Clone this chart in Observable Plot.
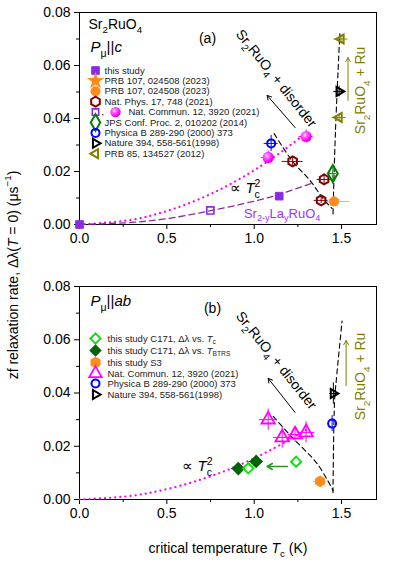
<!DOCTYPE html>
<html><head><meta charset="utf-8">
<script src="https://cdn.jsdelivr.net/npm/d3@7"></script>
<script src="https://cdn.jsdelivr.net/npm/@observablehq/plot@0.6"></script>
<style>
body{margin:0;background:#fff;}
#wrap{position:relative;width:397px;height:567px;overflow:hidden;background:#fff;}
#wrap svg{position:absolute;left:0;}
</style></head><body><div id="wrap"></div>
<script>
// ---------------- data ----------------
const xTicks = [0, 0.5, 1.0, 1.5];
const xMinor = [0.25, 0.75, 1.25];
const yTicks = [0, 0.02, 0.04, 0.06, 0.08];
const yMinor = [0.01, 0.03, 0.05, 0.07];

// panel (a): P_mu || c
const aThisTc = [0, 1.143], aThisRate = [0, 0.0107];
const aPrbStarTc = [1.457], aPrbStarRate = [0.0087];
const aPrbCircTc = [1.457], aPrbCircRate = [0.0087], aPrbCircXe = [[0.05, 0.09]], aPrbCircYe = [0.002];
const aNatPhysTc = [1.22, 1.40, 1.383], aNatPhysRate = [0.0238, 0.0170, 0.0091], aNatPhysXe = [0.06, 0.04, 0.04], aNatPhysYe = [0.0015, 0.002, 0.0012];
const aNcSqTc = [0.749], aNcSqRate = [0.0053];
const aNcBallTc = [1.08, 1.297], aNcBallRate = [0.0253, 0.0332], aNcBallXe = [0.04, 0.04], aNcBallYe = [0.0025, 0.0025];
const aJpsTc = [1.45], aJpsRate = [0.0192], aJpsXe = [0.02], aJpsYe = [0.003];
const aPhysBTc = [1.097], aPhysBRate = [0.0306], aPhysBXe = [0.04], aPhysBYe = [0.003];
const aNatureTc = [1.486], aNatureRate = [0.0502], aNatureXe = [0.03], aNatureYe = [0.002];
const aPrb85Tc = [1.497, 1.486], aPrb85Rate = [0.070, 0.0404], aPrb85Xe = [0.04, 0.04], aPrb85Ye = [0.0015, 0.0015];
// guide curves (a)
const aLaCurveTc = [0, 0.3, 0.5, 0.75, 1.0, 1.15, 1.33], aLaCurveRate = [0, 0.0008, 0.0022, 0.0052, 0.0088, 0.0115, 0.0156];
const aMagCurveTc = [0, 0.3, 0.5, 0.7, 0.9, 1.1, 1.32], aMagCurveRate = [0, 0.0018, 0.0051, 0.0100, 0.0166, 0.0248, 0.0357];
const aDisCurveTc = [1.114, 1.22, 1.32, 1.389, 1.446], aDisCurveRate = [0.0343, 0.0238, 0.0166, 0.0102, 0.006];
const aRuCurveTc = [1.451, 1.465, 1.49], aRuCurveRate = [0.004, 0.035, 0.072];

// panel (b): P_mu || ab
const bC171TcTc = [0.966, 1.24], bC171TcRate = [0.0117, 0.0142];
const bC171BtTc = [0.909, 1.011], bC171BtRate = [0.0116, 0.0143], bC171BtXe = [0.04, 0.04];
const bS3Tc = [1.377], bS3Rate = [0.0068], bS3Xe = [0.04], bS3Ye = [0.0012];
const bNcTriTc = [1.08, 1.16, 1.234, 1.297], bNcTriRate = [0.030, 0.0233, 0.0244, 0.0252], bNcTriXe = [0.05, 0.05, 0.04, 0.05], bNcTriYe = [0.004, 0.004, 0.003, 0.004];
const bPhysBTc = [1.446], bPhysBRate = [0.0285], bPhysBYe = [0.003];
const bNatureTc = [1.453], bNatureRate = [0.0398], bNatureXe = [0.02], bNatureYe = [0.004];
const bMagCurveTc = [0, 0.3, 0.5, 0.7, 0.9, 1.1, 1.32], bMagCurveRate = [0, 0.0014, 0.0039, 0.0076, 0.0125, 0.0188, 0.027];
const bDisCurveTc = [1.109, 1.217, 1.36, 1.451], bDisCurveRate = [0.0312, 0.0233, 0.0135, 0.0034];
const bRuCurveTc = [1.451, 1.46, 1.47, 1.503], bRuCurveRate = [0.0026, 0.037, 0.045, 0.067];

// legend labels
const aLegendLabels = ["this study", "PRB 107, 024508 (2023)", "PRB 107, 024508 (2023)", "Nat. Phys. 17, 748 (2021)",
  "Nat. Commun. 12, 3920 (2021)", "JPS Conf. Proc. 2, 010202 (2014)", "Physica B 289-290 (2000) 373",
  "Nature 394, 558-561(1998)", "PRB 85, 134527 (2012)"];
const bLegendLabels = ["this study C171, Δλ vs. *T*_{c}", "this study C171, Δλ vs. *T*_{BTRS}", "this study S3",
  "Nat. Commun. 12, 3920 (2021)", "Physica B 289-290 (2000) 373", "Nature 394, 558-561(1998)"];

// ---------------- helpers ----------------
const NS = "http://www.w3.org/2000/svg";
const FONT = '"Liberation Sans", Arial, Helvetica, sans-serif';
const LFS = 9.5; // legend font size
const C = {purple:"#8a2be2", purpleText:"#9933ff", orange:"#ff8c1a", orangeErr:"#ffab5c", darkred:"#800000",
  magenta:"#ff00ff", green:"#008000", blue:"#0000ff", olive:"#808000", lime:"#11e011", dkgreen:"#006400", arrowGreen:"#2a962a"};
const triRight = {draw(ctx, size){const r = Math.sqrt(size) * 0.66; ctx.moveTo(r, 0); ctx.lineTo(-r/2, -r*0.866); ctx.lineTo(-r/2, r*0.866); ctx.closePath();}};
const triLeft = {draw(ctx, size){const r = Math.sqrt(size) * 0.66; ctx.moveTo(-r, 0); ctx.lineTo(r/2, -r*0.866); ctx.lineTo(r/2, r*0.866); ctx.closePath();}};

function pts(tc, rate, xe, ye){
  return tc.map((t, i) => {
    const d = {tc: t, rate: rate[i]};
    if (xe && xe[i] != null) { const e = xe[i]; d.xl = t - (Array.isArray(e) ? e[0] : e); d.xh = t + (Array.isArray(e) ? e[1] : e); }
    if (ye && ye[i] != null) { d.yl = rate[i] - ye[i]; d.yh = rate[i] + ye[i]; }
    return d;
  });
}
const curve = (tc, rate) => tc.map((t, i) => ({tc: t, rate: rate[i]}));

function seriesMarks(list){
  const err = [], dots = [];
  for (const s of list) {
    const ec = s.err || s.stroke || s.fill;
    err.push(Plot.ruleY(s.data.filter(d => d.xl != null), {y: "rate", x1: "xl", x2: "xh", stroke: ec, strokeWidth: 1}));
    err.push(Plot.ruleX(s.data.filter(d => d.yl != null), {x: "tc", y1: "yl", y2: "yh", stroke: ec, strokeWidth: 1}));
    dots.push(Plot.dot(s.data, {x: "tc", y: "rate", symbol: s.symbol, r: s.r, fill: s.fill || "none", stroke: s.stroke || "none", strokeWidth: s.sw || 1}));
  }
  return [...err, ...dots];
}
function legendMarks(list, labels, dys, sx, tx){
  const m = [];
  list.forEach((s, i) => {
    m.push(Plot.dot([0], {frameAnchor: "top-left", dx: sx, dy: dys[i], symbol: s.symbol, r: s.lr || s.r, fill: s.fill || "none", stroke: s.stroke || "none", strokeWidth: s.sw || 1}));
    if (s.extra) {
      m.push(Plot.text([","], {text: d => d, frameAnchor: "top-left", dx: sx + 6, dy: dys[i], textAnchor: "start", lineAnchor: "middle", fontSize: LFS, fill: "#222"}));
      m.push(Plot.dot([0], {frameAnchor: "top-left", dx: sx + 20, dy: dys[i], symbol: s.extra.symbol, r: s.extra.lr, fill: s.extra.fill, stroke: "none"}));
    }
    m.push(Plot.text([labels[i]], {text: d => d, frameAnchor: "top-left", dx: s.extra ? tx + 24 : tx, dy: dys[i], textAnchor: "start", lineAnchor: "middle", fontSize: LFS, fill: "#222"}));
  });
  return m;
}
function axes(){
  return [
    Plot.axisX({ticks: xTicks, tickSize: 5, tickPadding: 4, tickFormat: d3.format(".1f"), label: null, fontSize: 14}),
    Plot.axisX({ticks: xMinor, tickSize: 3, tickFormat: () => "", label: null}),
    Plot.axisY({ticks: yTicks, tickSize: 5, tickPadding: 4, tickFormat: d3.format(".2f"), label: null, fontSize: 14}),
    Plot.axisY({ticks: yMinor, tickSize: 3, tickFormat: () => "", label: null}),
    Plot.frame({stroke: "black", strokeWidth: 1})
  ];
}
const defsMark = () => {
  const g = document.createElementNS(NS, "g");
  g.innerHTML = '<defs><radialGradient id="ball" cx="0.38" cy="0.36" r="0.66"><stop offset="0" stop-color="#ffeaff"/><stop offset="0.3" stop-color="#ff66ff"/><stop offset="0.8" stop-color="#ff00ff"/><stop offset="1" stop-color="#d000d0"/></radialGradient></defs>';
  return g;
};
const txt = (s, o) => Plot.text([s], {text: d => d, ...o});

// ---------------- panel (a) ----------------
const aSeries = [
  {data: pts(aThisTc, aThisRate), symbol: "square", r: 4.3, fill: C.purple, stroke: C.purple},
  {data: pts(aPrbStarTc, aPrbStarRate), symbol: "star", r: 3.8, lr: 5.5, fill: C.orange},
  {data: pts(aNatPhysTc, aNatPhysRate, aNatPhysXe, aNatPhysYe), symbol: "hexagon", r: 4.3, stroke: C.darkred, sw: 2},
  {data: pts(aPrbCircTc, aPrbCircRate, aPrbCircXe, aPrbCircYe), symbol: "circle", r: 5, fill: C.orange, err: C.orangeErr},
  {data: pts(aNcSqTc, aNcSqRate), symbol: "square", r: 4, lr: 3.6, stroke: C.purple, sw: 1.6, extra: {symbol: "circle", lr: 5.2, fill: "url(#ball)"}},
  {data: pts(aNcBallTc, aNcBallRate, aNcBallXe, aNcBallYe), symbol: "circle", r: 5.6, fill: "url(#ball)", err: C.magenta},
  {data: pts(aJpsTc, aJpsRate, aJpsXe, aJpsYe), symbol: "diamond", r: 5.2, lr: 5, stroke: C.green, sw: 2},
  {data: pts(aPhysBTc, aPhysBRate, aPhysBXe, aPhysBYe), symbol: "circle", r: 4, stroke: C.blue, sw: 2},
  {data: pts(aNatureTc, aNatureRate, aNatureXe, aNatureYe), symbol: triRight, r: 4.4, stroke: "black", sw: 2},
  {data: pts(aPrb85Tc, aPrb85Rate, aPrb85Xe, aPrb85Ye), symbol: triLeft, r: 4.4, stroke: C.olive, sw: 2}
];
const aLegendSeries = [aSeries[0], aSeries[1], aSeries[3], aSeries[2], aSeries[4], aSeries[6], aSeries[7], aSeries[8], aSeries[9]];
const aLegendDy = aLegendSeries.map((_, i) => 58 + i * 10.4);

const plotA = Plot.plot({
  width: 397, height: 250, marginTop: 12, marginBottom: 26, marginLeft: 79, marginRight: 21,
  x: {domain: [0, 1.7]}, y: {domain: [0, 0.08]},
  style: {fontFamily: FONT, fontSize: "14px", background: "white", color: "black", overflow: "visible"},
  marks: [
    defsMark,
    ...axes(),
    Plot.line(curve(aMagCurveTc, aMagCurveRate), {x: "tc", y: "rate", curve: "catmull-rom", stroke: C.magenta, strokeWidth: 2.2, strokeDasharray: "0.1,5", strokeLinecap: "round"}),
    Plot.line(curve(aLaCurveTc, aLaCurveRate), {x: "tc", y: "rate", curve: "catmull-rom", stroke: "#8e2a9e", strokeWidth: 1.3, strokeDasharray: "6,4"}),
    Plot.line(curve(aDisCurveTc, aDisCurveRate), {x: "tc", y: "rate", curve: "catmull-rom", stroke: "black", strokeWidth: 1.1, strokeDasharray: "5,3.5"}),
    Plot.line(curve(aRuCurveTc, aRuCurveRate), {x: "tc", y: "rate", curve: "catmull-rom", stroke: "black", strokeWidth: 1.1, strokeDasharray: "5,3.5"}),
    Plot.arrow([0], {x1: () => 1.234, y1: () => 0.0366, x2: () => 1.074, y2: () => 0.0487, stroke: "black", strokeWidth: 1, headLength: 7}),
    Plot.arrow([0], {x1: () => 1.537, y1: () => 0.0468, x2: () => 1.537, y2: () => 0.063, stroke: C.olive, strokeWidth: 1, headLength: 7}),
    ...seriesMarks(aSeries),
    ...legendMarks(aLegendSeries, aLegendLabels, aLegendDy, 16, 25),
    txt("Sr_{2}RuO_{4}", {frameAnchor: "top-left", dx: 9, dy: 12, textAnchor: "start", lineAnchor: "middle", fontSize: 14}),
    txt("*P*_{μ}||*c*", {frameAnchor: "top-left", dx: 11, dy: 35, textAnchor: "start", lineAnchor: "middle", fontSize: 15}),
    txt("(a)", {frameAnchor: "top-left", dx: 128, dy: 26, textAnchor: "middle", lineAnchor: "middle", fontSize: 14}),
    txt("Sr_{2}RuO_{4} + disorder", {x: () => 1.126, y: () => 0.0551, rotate: 51.5, textAnchor: "middle", lineAnchor: "middle", fontSize: 14}),
    txt("Sr_{2}RuO_{4} + Ru", {x: () => 1.611, y: () => 0.0506, rotate: -90, textAnchor: "middle", lineAnchor: "middle", fontSize: 14, fill: C.olive}),
    txt("∝ *T*_{c}^{2}", {x: () => 0.863, y: () => 0.0136, textAnchor: "start", lineAnchor: "middle", fontSize: 15}),
    txt("Sr_{2-y}La_{y}RuO_{4}", {x: () => 1.16, y: () => 0.0042, textAnchor: "middle", lineAnchor: "middle", fontSize: 13, fill: C.purpleText})
  ]
});

// ---------------- panel (b) ----------------
const bSeries = [
  {data: pts(bC171BtTc, bC171BtRate, bC171BtXe), symbol: "diamond2", r: 6.2, lr: 5.6, fill: C.dkgreen},
  {data: pts(bC171TcTc, bC171TcRate), symbol: "diamond2", r: 4.6, stroke: C.lime, sw: 2},
  {data: pts(bS3Tc, bS3Rate, bS3Xe, bS3Ye), symbol: "hexagon", r: 5, fill: C.orange, err: C.orangeErr},
  {data: pts(bNcTriTc, bNcTriRate, bNcTriXe, bNcTriYe), symbol: "triangle", r: 5, lr: 4.6, stroke: C.magenta, sw: 1.8},
  {data: pts(bPhysBTc, bPhysBRate, null, bPhysBYe), symbol: "circle", r: 4, stroke: C.blue, sw: 2},
  {data: pts(bNatureTc, bNatureRate, bNatureXe, bNatureYe), symbol: triRight, r: 4.4, stroke: "black", sw: 2}
];
const bLegendSeries = [bSeries[1], bSeries[0], bSeries[2], bSeries[3], bSeries[4], bSeries[5]];
const bLegendDy = [52, 64, 76, 87, 97, 108];

const plotB = Plot.plot({
  width: 397, height: 317, marginTop: 36, marginBottom: 68, marginLeft: 79, marginRight: 21,
  x: {domain: [0, 1.7]}, y: {domain: [0, 0.08]},
  style: {fontFamily: FONT, fontSize: "14px", background: "white", color: "black", overflow: "visible"},
  marks: [
    ...axes(),
    Plot.line(curve(bMagCurveTc, bMagCurveRate), {x: "tc", y: "rate", curve: "catmull-rom", stroke: C.magenta, strokeWidth: 2.2, strokeDasharray: "0.1,5", strokeLinecap: "round"}),
    Plot.line(curve(bDisCurveTc, bDisCurveRate), {x: "tc", y: "rate", curve: "catmull-rom", stroke: "black", strokeWidth: 1.1, strokeDasharray: "5,3.5"}),
    Plot.line(curve(bRuCurveTc, bRuCurveRate), {x: "tc", y: "rate", curve: "catmull-rom", stroke: "black", strokeWidth: 1.1, strokeDasharray: "5,3.5"}),
    Plot.arrow([0], {x1: () => 1.234, y1: () => 0.0327, x2: () => 1.08, y2: () => 0.0455, stroke: "black", strokeWidth: 1, headLength: 7}),
    Plot.arrow([0], {x1: () => 1.526, y1: () => 0.0428, x2: () => 1.526, y2: () => 0.0597, stroke: C.olive, strokeWidth: 1, headLength: 7}),
    Plot.arrow([0], {x1: () => 1.19, y1: () => 0.0124, x2: () => 1.074, y2: () => 0.0124, stroke: C.arrowGreen, strokeWidth: 1.5, headLength: 6}),
    ...seriesMarks(bSeries),
    ...legendMarks(bLegendSeries, bLegendLabels, bLegendDy, 16, 28),
    txt("*P*_{μ}||*ab*", {frameAnchor: "top-left", dx: 11, dy: 15, textAnchor: "start", lineAnchor: "middle", fontSize: 15}),
    txt("(b)", {frameAnchor: "top-left", dx: 133, dy: 22, textAnchor: "middle", lineAnchor: "middle", fontSize: 14}),
    txt("Sr_{2}RuO_{4} + disorder", {x: () => 1.126, y: () => 0.0522, rotate: 51.5, textAnchor: "middle", lineAnchor: "middle", fontSize: 14}),
    txt("Sr_{2}RuO_{4} + Ru", {x: () => 1.611, y: () => 0.0462, rotate: -90, textAnchor: "middle", lineAnchor: "middle", fontSize: 14, fill: C.olive}),
    txt("∝ *T*_{c}^{2}", {x: () => 0.589, y: () => 0.0124, textAnchor: "start", lineAnchor: "middle", fontSize: 15})
  ]
});

// ---------------- assemble ----------------
const wrap = document.getElementById("wrap");
plotA.style.top = "0px";
plotB.style.top = "250px";
wrap.appendChild(plotA);
wrap.appendChild(plotB);

const over = document.createElementNS(NS, "svg");
over.setAttribute("width", 397); over.setAttribute("height", 567);
over.style.top = "0px"; over.style.pointerEvents = "none";
over.setAttribute("font-family", FONT);
over.innerHTML = '<text x="13" y="275" transform="rotate(-90 13 275)" text-anchor="middle" dominant-baseline="central" font-size="14">zf relaxation rate, Δλ(*T* = 0) (μs^{−1})</text>' +
  '<text x="228" y="553" text-anchor="middle" font-size="14">critical temperature *T*_{c} (K)</text>';
wrap.appendChild(over);

// rich text: *italic*, _{sub}, ^{sup}
function parse(s){
  const out = []; let i = 0, it = false, buf = "";
  const flush = () => { if (buf) { out.push({t: buf, it, mode: "n"}); buf = ""; } };
  while (i < s.length) {
    const ch = s[i];
    if (ch === "*") { flush(); it = !it; i++; continue; }
    if ((ch === "_" || ch === "^") && s[i+1] === "{") {
      flush(); const j = s.indexOf("}", i);
      out.push({t: s.slice(i+2, j), it: false, mode: ch === "_" ? "sub" : "sup"}); i = j + 1; continue;
    }
    buf += ch; i++;
  }
  flush(); return out;
}
function richify(root){
  root.querySelectorAll("text").forEach(t => {
    if (t.querySelector("tspan")) return;
    const s = t.textContent;
    if (!/\*|_\{|\^\{/.test(s)) return;
    const parts = parse(s);
    const fs = parseFloat(getComputedStyle(t).fontSize) || 14;
    t.textContent = "";
    let cur = 0; const made = [];
    parts.forEach((p, k) => {
      const ts = document.createElementNS(NS, "tspan");
      ts.textContent = p.t;
      let target = 0;
      if (p.mode === "sub") { target = 0.3 * fs; ts.setAttribute("font-size", (0.7 * fs) + "px"); }
      else if (p.mode === "sup") { target = -0.42 * fs; ts.setAttribute("font-size", (0.7 * fs) + "px"); }
      if (p.it) ts.setAttribute("font-style", "italic");
      const dy = target - cur; if (dy) ts.setAttribute("dy", dy.toFixed(2));
      cur = target;
      t.appendChild(ts); made.push(ts);
      if (p.mode === "sup" && k > 0 && parts[k-1].mode === "sub") {
        ts.setAttribute("dx", (-made[k-1].getComputedTextLength()).toFixed(2));
      }
    });
  });
}
richify(wrap);
</script></body></html>
